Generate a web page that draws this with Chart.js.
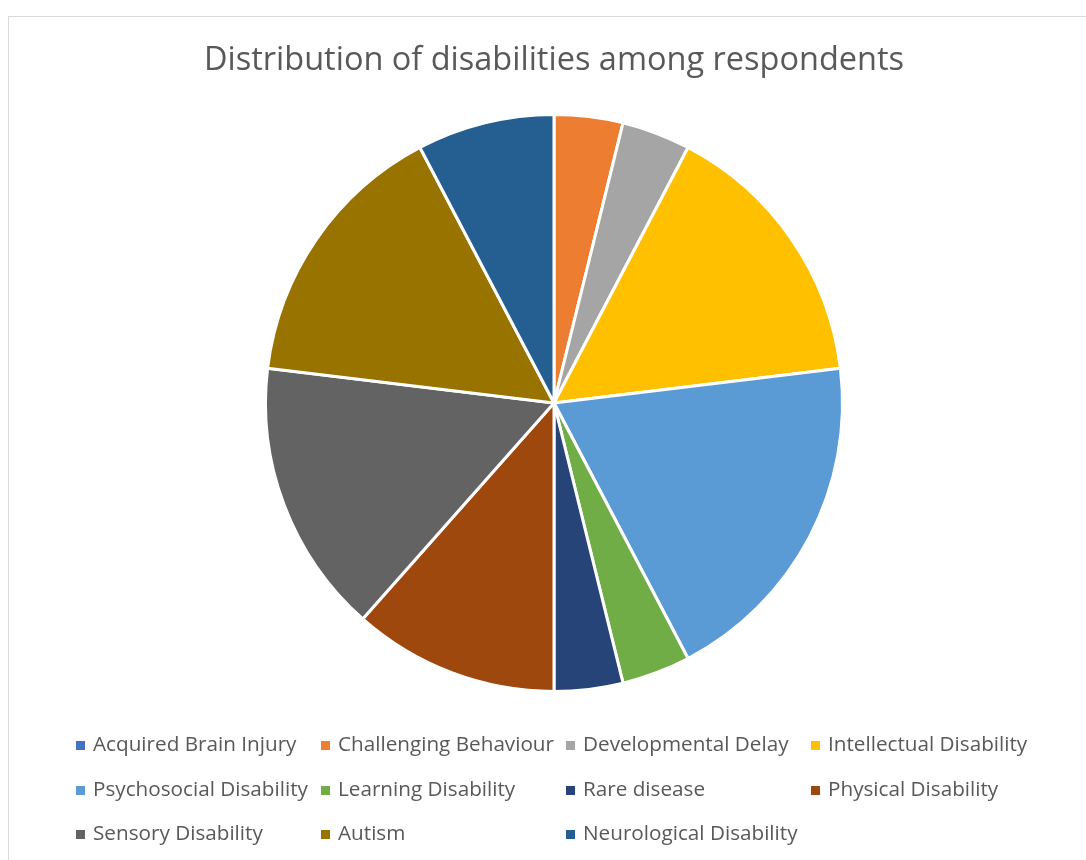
<!DOCTYPE html>
<html>
<head>
<meta charset="utf-8">
<script src="https://cdn.jsdelivr.net/npm/chart.js@4.4.1/dist/chart.umd.min.js"></script>
<style>
  html, body { margin: 0; padding: 0; background: #fff; }
  #wrap { position: relative; width: 1086px; height: 860px; overflow: hidden; }
  #frame { position: absolute; left: 8px; top: 16px; width: 1100px; height: 900px; border: 1px solid #d9d9d9; }
  canvas { position: absolute; left: 0; top: 0; }
</style>
</head>
<body>
<div id="wrap">
  <div id="frame"></div>
  <canvas id="pieChart" width="1086" height="860"></canvas>
</div>
<script>
// Datos de la gráfica
const categories = ['Acquired Brain Injury', 'Challenging Behaviour', 'Developmental Delay', 'Intellectual Disability',
  'Psychosocial Disability', 'Learning Disability', 'Rare disease', 'Physical Disability',
  'Sensory Disability', 'Autism', 'Neurological Disability'];
const respondents = [0, 1, 1, 4, 5, 1, 1, 3, 4, 4, 2];
const sliceColors = ['#4472C4', '#ED7D31', '#A5A5A5', '#FFC000', '#5B9BD5', '#70AD47',
  '#264478', '#9E480E', '#636363', '#997300', '#255E91'];
const chartTitle = 'Distribution of disabilities among respondents';

const FONT = '"Open Sans", Lato, sans-serif';

// Título y leyenda en rejilla (4 columnas, como en Excel)
const titleAndLegend = {
  id: 'titleAndLegend',
  afterDraw(chart) {
    const ctx = chart.ctx;
    ctx.save();
    ctx.fillStyle = '#595959';
    ctx.font = '32.5px ' + FONT;
    ctx.textAlign = 'center';
    ctx.textBaseline = 'middle';
    ctx.fillText(chartTitle, 554, 61);

    const colX = [76, 321, 566, 811];
    const rowY = [745, 790, 834];
    ctx.font = '20.7px ' + FONT;
    ctx.textAlign = 'left';
    categories.forEach((name, i) => {
      const x = colX[i % 4];
      const y = rowY[Math.floor(i / 4)];
      ctx.fillStyle = sliceColors[i];
      ctx.fillRect(x, y - 4, 9, 9);
      ctx.fillStyle = '#595959';
      ctx.fillText(name, x + 17, y);
    });
    ctx.restore();
  }
};

let ctx = document.getElementById('pieChart').getContext('2d');

let pieChart = new Chart(ctx, {
  type: 'pie',
  data: {
    labels: categories,
    datasets: [{
      data: respondents,
      backgroundColor: sliceColors,
      borderColor: '#ffffff',
      borderWidth: 3,
      hoverOffset: 0
    }]
  },
  options: {
    responsive: false,
    animation: false,
    layout: { padding: { top: 113, bottom: 167, left: 200, right: 178 } },
    plugins: {
      legend: { display: false },
      tooltip: { enabled: false },
      title: { display: false }
    }
  },
  plugins: [titleAndLegend]
});
</script>
</body>
</html>
